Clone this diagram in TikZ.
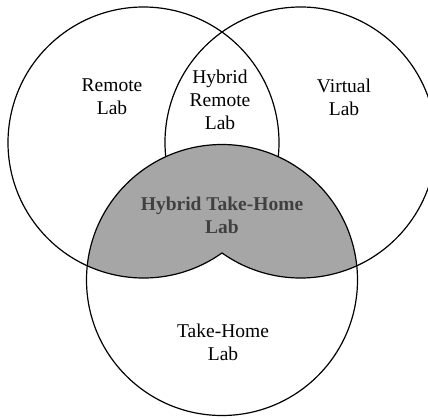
\documentclass[tikz,border=0pt]{standalone}
\usepackage{fontspec}
\setmainfont{Liberation Serif}
\usepackage{xcolor}
\definecolor{labgray}{HTML}{A6A6A6}
\definecolor{labdark}{HTML}{404040}
\begin{document}
\begin{tikzpicture}[x=1pt, y=-1pt, line width=1.2pt, labeltext/.style={align=center, font=\fontsize{19.5}{23}\selectfont}]
                      \useasboundingbox (0,0) rectangle (428,418);
                      \clip (0,0) rectangle (428,418);
                      \coordinate (L) at (143.5,142.5);
                      \coordinate (R) at (300.5,142.5);
                      \coordinate (B) at (222,280);

                      % shaded part: bottom circle inside the two upper ones
                      \begin{scope}
                        \clip (B) circle[radius=135.5];
                        \fill[labgray] (L) circle[radius=135.5];
                        \fill[labgray] (R) circle[radius=135.5];
                      \end{scope}

                      \draw (B) circle[radius=135.5];
                      \draw (L) ++(54.6:135.5) arc[start angle=54.6, end angle=366.0, radius=135.5];
                      \draw (R) ++(174.0:135.5) arc[start angle=174.0, end angle=485.4, radius=135.5];

                      \node[labeltext] (remote) at (112,97) {Remote\\Lab};
                      \node[labeltext] (hybridremote) at (220,100) {Hybrid\\Remote\\Lab};
                      \node[labeltext] (virtual) at (344,97) {Virtual\\Lab};
                      \node[labeltext, text=labdark, font=\fontsize{19.5}{23}\selectfont\bfseries] (hybridhome) at (222,215) {Hybrid Take-Home\\Lab};
                      \node[labeltext] (takehome) at (223,342) {Take-Home\\Lab};

                    \end{tikzpicture}
\end{document}
